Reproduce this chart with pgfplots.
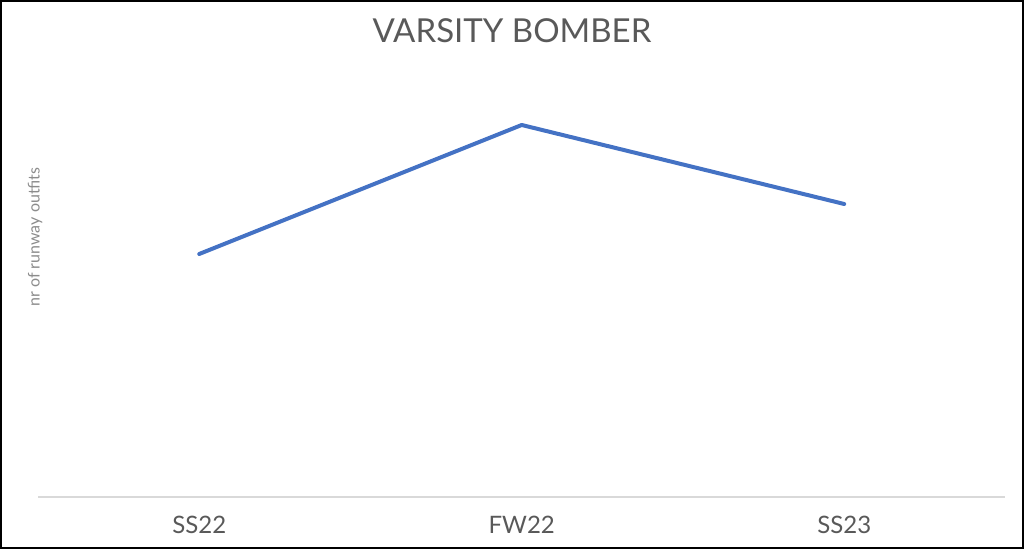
\documentclass[border=0pt]{standalone}
\usepackage{fontspec}
\setmainfont{Lato}
\usepackage{pgfplots}
\pgfplotsset{compat=1.18}
\definecolor{lineblue}{HTML}{4472C4}
\definecolor{txt}{HTML}{595959}
\definecolor{lbl}{HTML}{8C8C8C}
\definecolor{base}{HTML}{D9D9D9}
\begin{document}
\begin{tikzpicture}[x=0.75pt,y=0.75pt]
\draw[black, line width=1.5pt] (1,1) rectangle (1023,548);
\node[text=txt, font=\fontsize{24.75pt}{28pt}\selectfont] at (512,518) {VARSITY BOMBER};
\node[text=lbl, rotate=90, font=\fontsize{12pt}{14pt}\selectfont] at (35,312) {nr of runway outfits};
\begin{axis}[
  at={(28.5pt,39pt)}, anchor=south west,
  scale only axis, width=725.6pt, height=327.75pt,
  xmin=-0.5, xmax=2.5, ymin=0, ymax=437,
  axis x line*=bottom, axis y line=none,
  x axis line style={-, draw=base, line width=1.1pt},
  xtick={0,1,2}, xticklabels={SS22,FW22,SS23},
  major tick length=0pt, ytick=\empty,
  xticklabel style={text=txt, font=\fontsize{18pt}{21pt}\selectfont, yshift=-11pt},
  clip=false,
]
\addplot[lineblue, line width=3pt, line join=round, line cap=round] coordinates {(0,243) (1,372) (2,293)};
\end{axis}
\end{tikzpicture}
\end{document}
